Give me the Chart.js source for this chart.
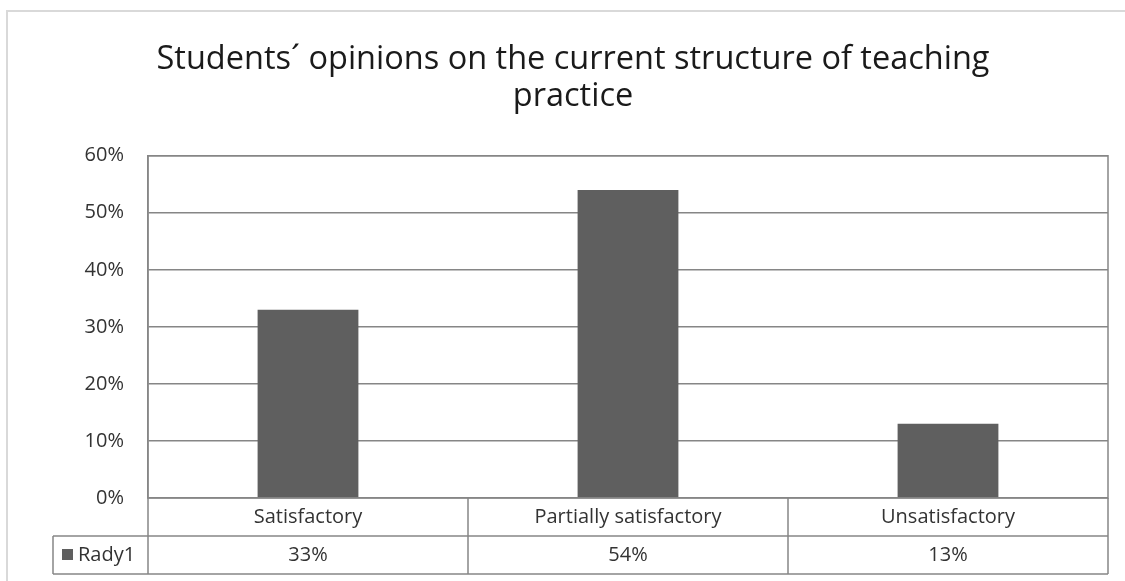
<!DOCTYPE html>
<html>
<head>
<meta charset="utf-8">
<script src="https://cdn.jsdelivr.net/npm/chart.js@4/dist/chart.umd.min.js"></script>
<style>
  html, body { margin: 0; padding: 0; background: #fff; }
  #wrap { width: 1125px; height: 581px; position: relative; }
</style>
</head>
<body>
<div id="wrap"><canvas id="chart" width="1125" height="581"></canvas></div>
<script>
const categories = ["Satisfactory", "Partially satisfactory", "Unsatisfactory"];
const seriesName = "Rady1";
const rady1 = [0.33, 0.54, 0.13];
const yMax = 0.6;
const yStep = 0.1;

const barColor = "#5f5f5f";
const lineColor = "#868686";
const textColor = "#333333";
const fontFamily = "'Open Sans', 'Noto Sans', sans-serif";

const pct = v => Math.round(v * 100) + "%";

// draws the frame, plot border and the data table under the x axis
const tablePlugin = {
  id: "dataTable",
  afterDraw(chart) {
    const ctx = chart.ctx;
    const area = chart.chartArea;
    const x = chart.scales.x;
    const rowH = (x.bottom - x.top) / 2;
    const legendLeft = 53;

    ctx.save();
    // outer frame
    ctx.strokeStyle = "#d9d9d9";
    ctx.lineWidth = 2;
    ctx.beginPath();
    ctx.moveTo(7, 590);
    ctx.lineTo(7, 11);
    ctx.lineTo(1130, 11);
    ctx.stroke();

    ctx.strokeStyle = lineColor;
    ctx.lineWidth = 1.5;
    // plot border
    ctx.strokeRect(area.left, area.top, area.right - area.left, area.bottom - area.top);

    // table lines
    const r1 = area.bottom + rowH;
    const r2 = area.bottom + 2 * rowH;
    ctx.beginPath();
    ctx.moveTo(legendLeft, r1); ctx.lineTo(area.right, r1);
    ctx.moveTo(legendLeft, r2); ctx.lineTo(area.right, r2);
    ctx.moveTo(legendLeft, r1); ctx.lineTo(legendLeft, r2);
    ctx.moveTo(area.left, area.bottom); ctx.lineTo(area.left, r2);
    ctx.moveTo(area.right, area.bottom); ctx.lineTo(area.right, r2);
    const colW = (area.right - area.left) / categories.length;
    for (let i = 1; i < categories.length; i++) {
      const px = x.getPixelForValue(i) - colW / 2;
      ctx.moveTo(px, area.bottom); ctx.lineTo(px, r2);
    }
    ctx.stroke();

    // table text
    ctx.fillStyle = textColor;
    ctx.font = "20px " + fontFamily;
    ctx.textAlign = "center";
    ctx.textBaseline = "middle";
    categories.forEach((c, i) => {
      const px = x.getPixelForValue(i);
      ctx.fillText(c, px, area.bottom + rowH / 2);
      ctx.fillText(pct(rady1[i]), px, r1 + rowH / 2);
    });

    // series key
    ctx.fillStyle = barColor;
    ctx.fillRect(62, r1 + rowH / 2 - 6, 11, 11);
    ctx.fillStyle = textColor;
    ctx.textAlign = "left";
    ctx.fillText(seriesName, 78, r1 + rowH / 2);
    ctx.restore();
  }
};

new Chart(document.getElementById("chart").getContext("2d"), {
  type: "bar",
  data: {
    labels: categories,
    datasets: [
      {
        label: seriesName,
        data: rady1,
        backgroundColor: barColor,
        borderWidth: 0,
        barPercentage: 0.315,
        categoryPercentage: 1,
      },
    ]
  },
  options: {
    responsive: false,
    animation: false,
    layout: { padding: { left: 38, right: 17, top: 0, bottom: 7 } },
    plugins: {
      legend: { display: false },
      tooltip: { enabled: false },
      title: {
        display: true,
        text: ["Students\u00b4 opinions on the current structure of teaching", "practice"],
        color: "#1a1a1a",
        font: { family: fontFamily, size: 32.5, weight: "normal", lineHeight: 1.15 },
        padding: { top: 41, bottom: 40 },
      },
    },
    scales: {
      x: {
        grid: { display: false },
        border: { display: false },
        ticks: { display: false },
        afterFit(scale) { scale.height = 76; },
      },
      y: {
        min: 0,
        max: yMax,
        ticks: {
          stepSize: yStep,
          padding: 24,
          color: textColor,
          font: { family: fontFamily, size: 20 },
          callback: v => pct(v),
        },
        grid: { color: lineColor, lineWidth: 1.5, drawTicks: false },
        border: { color: lineColor, width: 1.5 },
        afterFit(scale) { scale.width = 110; },
      },
    },
  },
  plugins: [tablePlugin],
});
</script>
</body>
</html>
